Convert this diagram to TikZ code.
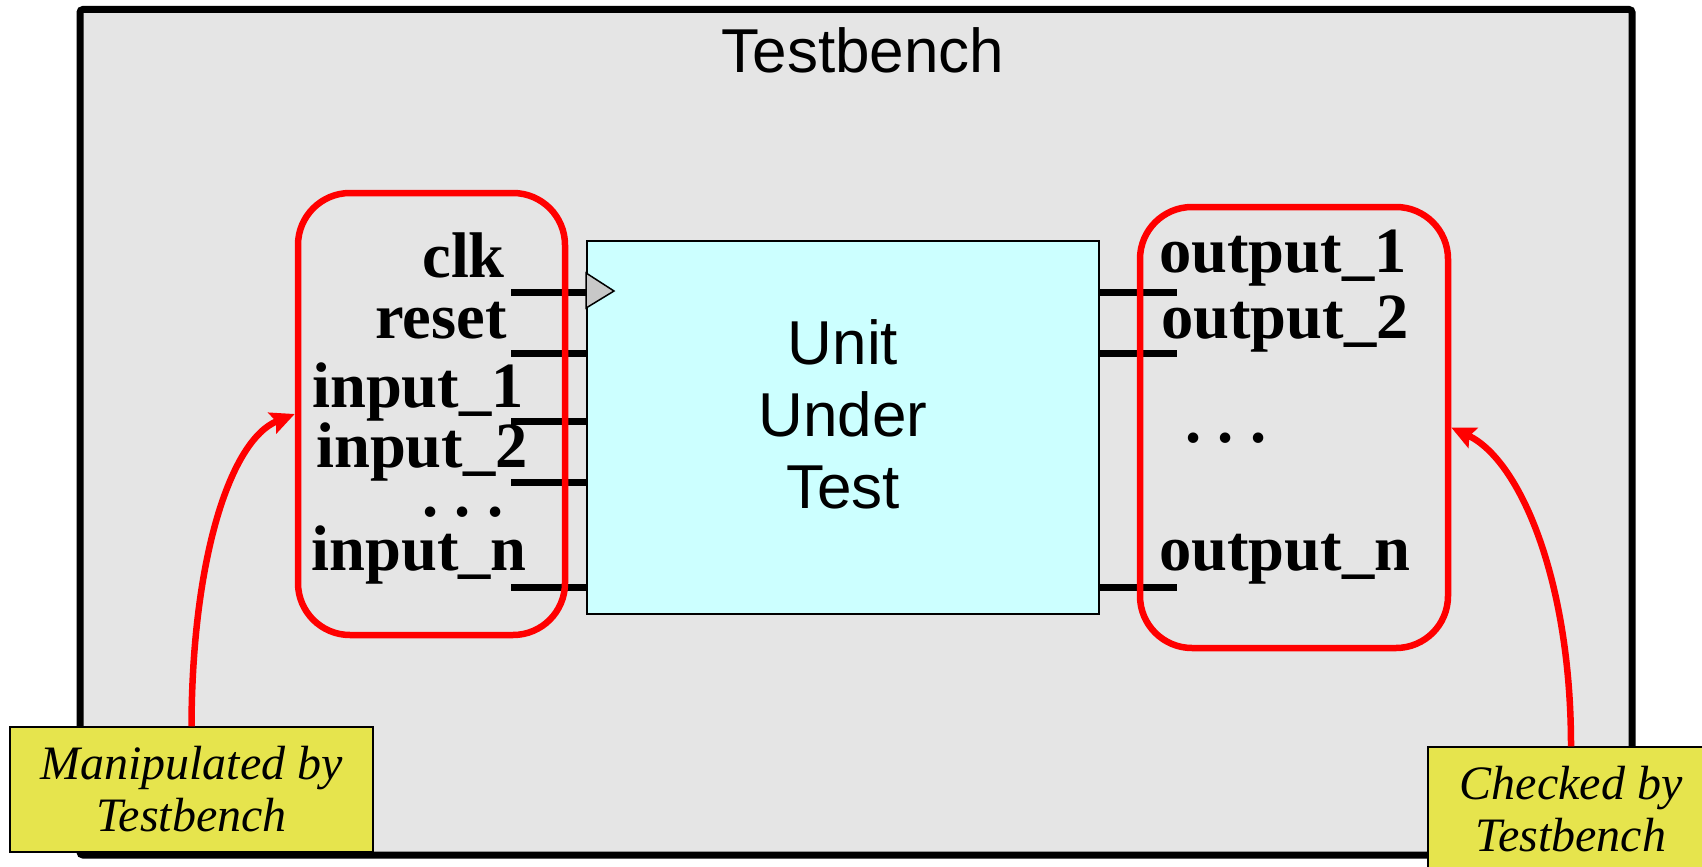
\documentclass[tikz,border=0pt]{standalone}
\usepackage{fontspec}
\setmainfont{Liberation Serif}
\newfontfamily\arialfont{Liberation Sans}
\usetikzlibrary{arrows.meta}
\definecolor{bggray}{RGB}{229,229,229}
\definecolor{uutcyan}{RGB}{204,255,255}
\definecolor{noteyellow}{RGB}{230,228,77}
\definecolor{trigray}{RGB}{200,200,200}
\begin{document}
\begin{tikzpicture}[x=1pt,y=-1pt,
  outerbox/.style={draw=black, line width=7pt, fill=bggray, rounded corners=3pt, inner sep=0pt},
  uutbox/.style={draw=black, line width=1.8pt, fill=uutcyan, inner sep=0pt},
  redbox/.style={draw=red, line width=6.5pt, rounded corners=52pt, inner sep=0pt},
  pinline/.style={draw=black, line width=7pt},
  sig/.style={font=\bfseries\fontsize{64.5}{64.5}\selectfont, inner sep=0pt},
  note/.style={draw=black, line width=1.5pt, fill=noteyellow, inner sep=0pt, minimum height=125pt,
    font=\itshape\fontsize{48}{52}\selectfont, align=center},
  redarrow/.style={draw=red, line width=6.5pt, -{Stealth[length=24pt,width=22pt,inset=4pt]}},
  sanslabel/.style={font=\arialfont\fontsize{62}{62}\selectfont, inner sep=0pt}
]
\useasboundingbox (0,0) rectangle (1702,867);
\clip (0,0) rectangle (1702,867);

% Testbench frame
\node[outerbox, minimum width=1552pt, minimum height=845.5pt] (tb) at (856,432.25) {};
\node[sanslabel, anchor=base] (title) at (863,72) {Testbench};

% Unit under test
\node[uutbox, minimum width=512pt, minimum height=373pt] (uut) at (843,427.5) {};
\node[font=\arialfont\fontsize{62}{72}\selectfont, align=center, inner sep=0pt] (uuttext) at (843,414) {Unit\\Under\\Test};

% input pins
\coordinate (pclk) at (511,292);
\coordinate (preset) at (511,353);
\coordinate (pin1) at (511,421);
\coordinate (pin2) at (511,482);
\coordinate (pinn) at (511,587);
\foreach \p in {pclk,preset,pin1,pin2,pinn}
  \draw[pinline] (\p) -- (\p -| uut.west);

% output pins
\coordinate (pout1) at (1177,292);
\coordinate (pout2) at (1177,353);
\coordinate (poutn) at (1177,587);
\foreach \p in {pout1,pout2,poutn}
  \draw[pinline] (\p -| uut.east) -- (\p);

% clock marker
\draw[black, line width=1.5pt, fill=trigray] (uut.west |- 0,273) -- (614,291) -- (uut.west |- 0,308) -- cycle;

% red groups
\node[redbox, minimum width=267pt, minimum height=442pt] (inbox) at (431.5,414) {};
\node[redbox, minimum width=308pt, minimum height=441pt] (outbox) at (1294,427.5) {};

% signal labels
\node[sig, anchor=base east] (lclk) at (505,277) {clk};
\node[sig, anchor=base east] (lreset) at (507,338) {reset};
\node[sig, anchor=base east] (lin1) at (524,407) {input\_1};
\node[sig, anchor=base east] (lin2) at (528,467) {input\_2};
\node[sig, anchor=base] (lindots) at (463,516) {.\ .\ .};
\node[sig, anchor=base east] (linn) at (527,570) {input\_n};

\node[sig, anchor=base west] (lout1) at (1159,272) {output\_1};
\node[sig, anchor=base west] (lout2) at (1161,338) {output\_2};
\node[sig, anchor=base] (loutdots) at (1226,442) {.\ .\ .};
\node[sig, anchor=base west] (loutn) at (1159,570) {output\_n};

% notes
\node[note, minimum width=363pt] (manip) at (191.5,789.5) {Manipulated by\\Testbench};
\node[note, minimum width=286pt] (check) at (1571,809.5) {Checked by\\Testbench};

% arrows
\draw[redarrow] (manip.north) .. controls (192,560) and (230,440) .. (inbox.west);
\draw[redarrow] (check.north) .. controls (1571,580) and (1520,460) .. (outbox.east);
\end{tikzpicture}
\end{document}
